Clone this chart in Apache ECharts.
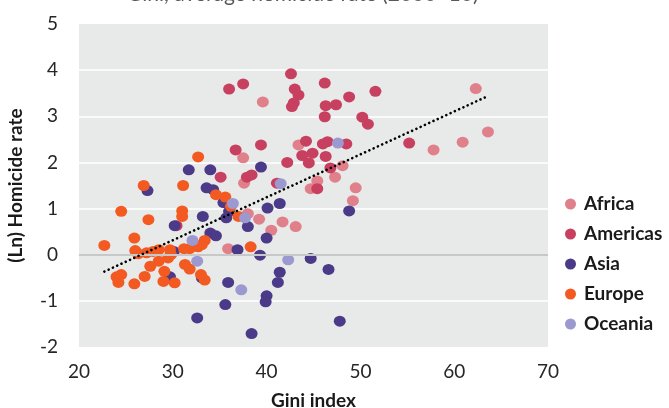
<!DOCTYPE html>
<html>
<head>
<meta charset="utf-8">
<script src="https://cdn.jsdelivr.net/npm/echarts@6/dist/echarts.min.js"></script>
<style>html,body{margin:0;padding:0;background:#fff}#c{width:669px;height:408px}</style>
</head>
<body>
<div id="c"></div>
<script>
// Gini index, (Ln) homicide rate
const africa = [[39.6,3.31],[37.5,2.10],[43.4,2.38],[37.6,1.55],[62.3,3.60],[57.8,2.27],[60.9,2.44],[63.6,2.66],[48.1,1.93],[47.3,1.68],[45.4,1.60],[44.7,1.43],[49.5,1.45],[49.2,1.17],[38.0,0.89],[39.2,0.77],[41.7,0.71],[40.5,0.53],[43.1,0.61],[35.9,0.13]];
const americas = [[36.0,3.59],[37.5,3.70],[42.6,3.92],[43.0,3.59],[43.4,3.46],[42.9,3.29],[42.7,3.21],[36.7,2.27],[39.4,2.38],[44.2,2.46],[43.8,2.15],[44.9,2.20],[44.5,1.99],[42.2,2.00],[35.1,1.68],[37.9,1.68],[38.4,1.73],[41.1,1.55],[46.2,3.72],[48.8,3.42],[51.6,3.54],[46.3,3.23],[47.4,3.25],[46.2,2.99],[50.2,2.98],[50.8,2.83],[46.0,2.40],[46.5,2.45],[48.5,2.40],[55.2,2.42],[46.3,2.13],[46.8,1.88],[45.4,1.43],[30.4,0.63]];
const asia = [[31.7,1.84],[34.0,1.84],[39.4,1.90],[27.3,1.39],[33.6,1.45],[34.3,1.41],[35.4,1.13],[36.0,0.94],[35.7,0.80],[38.0,0.61],[40.1,1.01],[41.4,1.11],[40.0,0.36],[33.2,0.83],[30.2,0.63],[34.0,0.47],[34.6,0.41],[30.1,0.07],[36.9,0.11],[39.3,-0.01],[44.7,-0.08],[29.7,-0.48],[33.1,-0.50],[35.9,-0.60],[41.4,-0.38],[41.2,-0.60],[40.0,-0.89],[39.9,-1.02],[35.6,-1.08],[32.6,-1.37],[38.4,-1.71],[48.8,0.95],[46.6,-0.32],[47.8,-1.44]];
const europe = [[32.7,2.12],[26.9,1.50],[31.1,1.50],[34.6,1.30],[35.6,1.25],[36.2,1.05],[37.0,0.83],[24.5,0.94],[27.4,0.76],[31.0,0.95],[31.0,0.83],[25.9,0.36],[33.4,0.31],[33.1,0.22],[32.7,0.17],[31.2,0.13],[31.8,0.13],[22.7,0.20],[26.0,0.09],[26.3,0.02],[27.2,0.04],[27.9,0.07],[28.5,0.11],[29.7,0.11],[29.8,0.00],[38.3,0.17],[27.6,-0.25],[28.5,-0.14],[29.5,-0.07],[31.3,-0.21],[31.8,-0.31],[29.1,-0.36],[29.0,-0.58],[30.2,-0.61],[27.0,-0.47],[25.9,-0.63],[24.5,-0.43],[24.2,-0.60],[24.0,-0.48],[33.0,-0.43],[33.4,-0.55]];
const oceania = [[41.5,1.54],[36.4,1.11],[37.7,0.80],[32.1,0.31],[42.3,-0.11],[32.6,-0.14],[37.3,-0.76],[47.6,2.42]];

const regionNames = ['Africa','Americas','Asia','Europe','Oceania'];
const regionData = [africa, americas, asia, europe, oceania];
const regionColors = ['#e0808a','#c8405f','#4b3a87','#f35a22','#9b99cf'];
const xTicks = {min:20, max:70, interval:10};
const yTicks = {min:-2, max:5, interval:1};

// least-squares trend line from all points
const all = regionData.flat();
const n = all.length;
const mx = all.reduce((s,p)=>s+p[0],0)/n;
const my = all.reduce((s,p)=>s+p[1],0)/n;
let sxy=0, sxx=0;
all.forEach(p=>{sxy+=(p[0]-mx)*(p[1]-my); sxx+=(p[0]-mx)*(p[0]-mx);});
const slope = sxy/sxx, icpt = my - slope*mx;
const xmin = Math.min(...all.map(p=>p[0])), xmax = Math.max(...all.map(p=>p[0]));
const trend = [[xmin, icpt+slope*xmin],[xmax, icpt+slope*xmax]];

const FONT = 'Lato';
const chart = echarts.init(document.getElementById('c'));
const series = regionNames.map((nm,i)=>({
  name: nm, type:'scatter', data: regionData[i], symbol:'circle', symbolSize:[12,11],
  itemStyle:{color: regionColors[i], opacity:1}, z: 3
}));
series.unshift({
  type:'line', data:[], z:1, silent:true,
  markLine:{silent:true, symbol:'none', label:{show:false}, animation:false,
    lineStyle:{color:'#c8c8c8', width:2, type:'solid'}, data:[{yAxis:0}]}
});
series.push({
  name:'trend', type:'line', data: trend, symbol:'none', z:5, silent:true,
  lineStyle:{color:'#000', width:2.6, type:[0.1,4.6], cap:'round'}
});
chart.setOption({
  animation:false,
  title:{text:'Gini, average homicide rate (2000–10)', left:122, top:-21,
    textStyle:{fontFamily:FONT, fontSize:21, fontWeight:'normal', color:'#595959'}},
  legend:{data:regionNames, orient:'vertical', left:560, top:189, itemGap:10,
    icon:'circle', itemWidth:11, itemHeight:11,
    textStyle:{fontFamily:FONT, fontSize:19, fontWeight:'bold', color:'#1a1a1a', lineHeight:20, padding:[0,0,0,3]}},
  grid:{left:79, right:121, top:24, bottom:61, show:true, backgroundColor:'#e8e9e9', borderWidth:0,
    containLabel:false, outerBoundsMode:'none'},
  xAxis:{type:'value', min:xTicks.min, max:xTicks.max, interval:xTicks.interval,
    name:'Gini index', nameLocation:'middle', nameGap:44,
    nameTextStyle:{fontFamily:FONT, fontSize:19, fontWeight:'bold', color:'#1a1a1a'},
    axisLine:{show:false}, axisTick:{show:false}, splitLine:{show:false},
    axisLabel:{fontFamily:FONT, fontSize:19, color:'#262626', margin:15}},
  yAxis:{type:'value', min:yTicks.min, max:yTicks.max, interval:yTicks.interval,
    name:'(Ln) Homicide rate', nameLocation:'middle', nameGap:54,
    nameTextStyle:{fontFamily:FONT, fontSize:19, fontWeight:'bold', color:'#1a1a1a'},
    axisLine:{show:false}, axisTick:{show:false},
    splitLine:{show:true, showMinLine:false, showMaxLine:false, lineStyle:{color:'#ffffff', width:1.5}},
    axisLabel:{fontFamily:FONT, fontSize:19, color:'#262626', margin:21}},
  series: series
});
</script>
</body>
</html>
